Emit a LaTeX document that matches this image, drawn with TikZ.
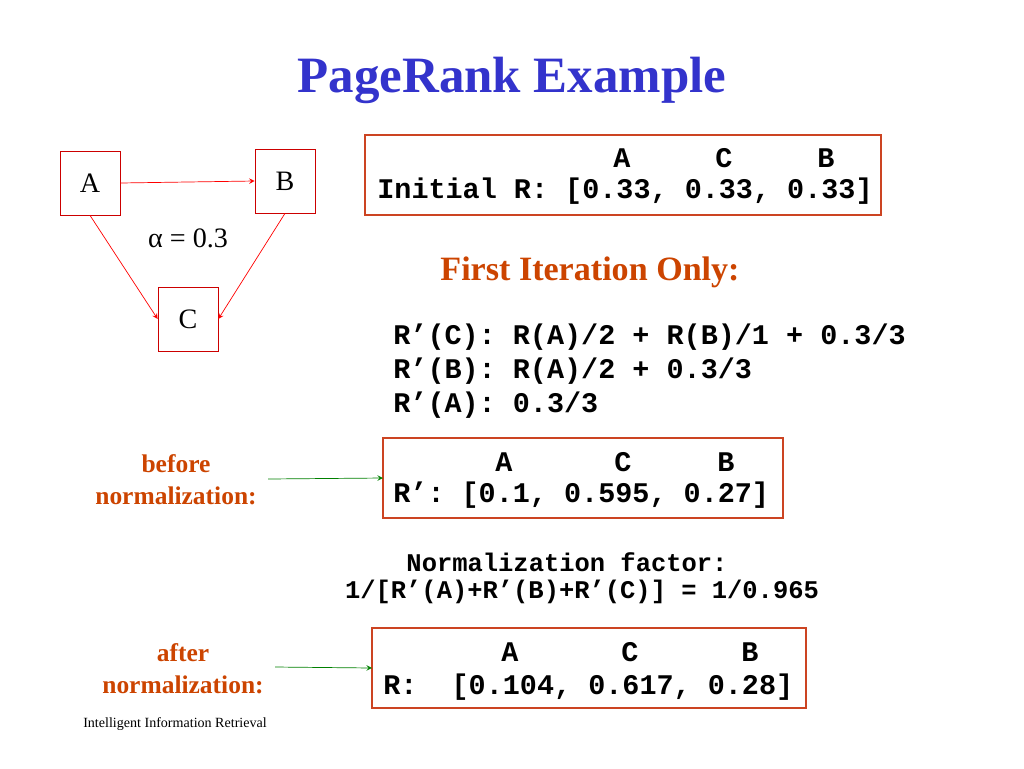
\documentclass[tikz,border=0pt]{standalone}
\usepackage{fontspec}
\setmainfont{Liberation Serif}
\setmonofont{Liberation Mono}
\usetikzlibrary{positioning}
\definecolor{titleblue}{RGB}{51,51,204}
\definecolor{rust}{RGB}{204,68,0}
\definecolor{boxred}{RGB}{204,68,34}
\definecolor{arrgreen}{RGB}{0,128,0}
\tikzset{
  pagebox/.style={draw=red!80!black, minimum width=1.2cm, minimum height=1.28cm, font=\fontsize{16}{18}\selectfont},
  tablebox/.style={draw=boxred, thick},
  mono/.style={font=\ttfamily\bfseries\fontsize{16.2}{18}\selectfont, inner sep=0pt},
  smallmono/.style={font=\ttfamily\bfseries\fontsize{14.5}{17}\selectfont, inner sep=0pt},
  note/.style={font=\bfseries\fontsize{14.5}{17}\selectfont, text=rust, align=center, inner sep=0pt},
  link/.style={red, ->, >=stealth},
  pointer/.style={arrgreen, ->, >=stealth}
}
\begin{document}
\begin{tikzpicture}[x=0.02cm, y=-0.02cm]
\useasboundingbox (0,0) rectangle (1024,768);
% title
\node[font=\bfseries\fontsize{29}{33}\selectfont, text=titleblue] (title) at (512,80) {PageRank Example};
% graph
\node[pagebox] (A) at (90,183) {A};
\node[pagebox] (B) at (285,181) {B};
\node[pagebox] (C) at (188,319) {C};
\draw[link] (A.east) -- (B.west);
\draw[link] (A.south) -- (C.west);
\draw[link] (B.south) -- (C.east);
\node[font=\fontsize{16}{18}\selectfont] (alpha) at (188,238) {α = 0.3};
% initial R
\draw[tablebox] (365,135) rectangle (881,215);
\node[mono] (h1a) at (622,158) {A};
\node[mono] (h1c) at (724,158) {C};
\node[mono] (h1b) at (826,158) {B};
\node[mono, anchor=west] (init) at (377,191) {Initial R: [0.33, 0.33, 0.33]};
\node[note, font=\bfseries\fontsize{19.4}{22}\selectfont] (first) at (590,272) {First Iteration Only:};
% updates
\node[mono, anchor=west] (rc) at (393,337) {R’(C): R(A)/2 + R(B)/1 + 0.3/3};
\node[mono, anchor=west] (rb) at (393,371) {R’(B): R(A)/2 + 0.3/3};
\node[mono, anchor=west] (ra) at (393,405) {R’(A): 0.3/3};
% before normalization
\draw[tablebox] (383,438) rectangle (783,518);
\coordinate (box2) at (383,478);
\node[mono] (h2a) at (504,462) {A};
\node[mono] (h2c) at (623,462) {C};
\node[mono] (h2b) at (726,462) {B};
\node[mono, anchor=west] (rp) at (393,495) {R’: [0.1, 0.595, 0.27]};
\node[note] (before) at (176,480) {before\\[1pt]normalization:};
\coordinate (bstart) at (268,479);
\draw[pointer] (bstart) -- (box2);
% factor
\node[smallmono] (nf1) at (567,562) {Normalization factor:};
\node[smallmono] (nf2) at (582,592) {1/[R’(A)+R’(B)+R’(C)] = 1/0.965};
% after normalization
\draw[tablebox] (372,628) rectangle (806,708);
\coordinate (box3) at (372,668);
\node[mono] (h3a) at (510,652) {A};
\node[mono] (h3c) at (630,652) {C};
\node[mono] (h3b) at (750,652) {B};
\node[mono, anchor=west] (rn) at (383,687) {R:\ \ [0.104, 0.617, 0.28]};
\node[note] (after) at (183,669) {after\\[1pt]normalization:};
\coordinate (astart) at (275,667);
\draw[pointer] (astart) -- (box3);
% footer
\node[font=\fontsize{8}{9}\selectfont] (foot) at (175,724) {Intelligent Information Retrieval};
\end{tikzpicture}
\end{document}
